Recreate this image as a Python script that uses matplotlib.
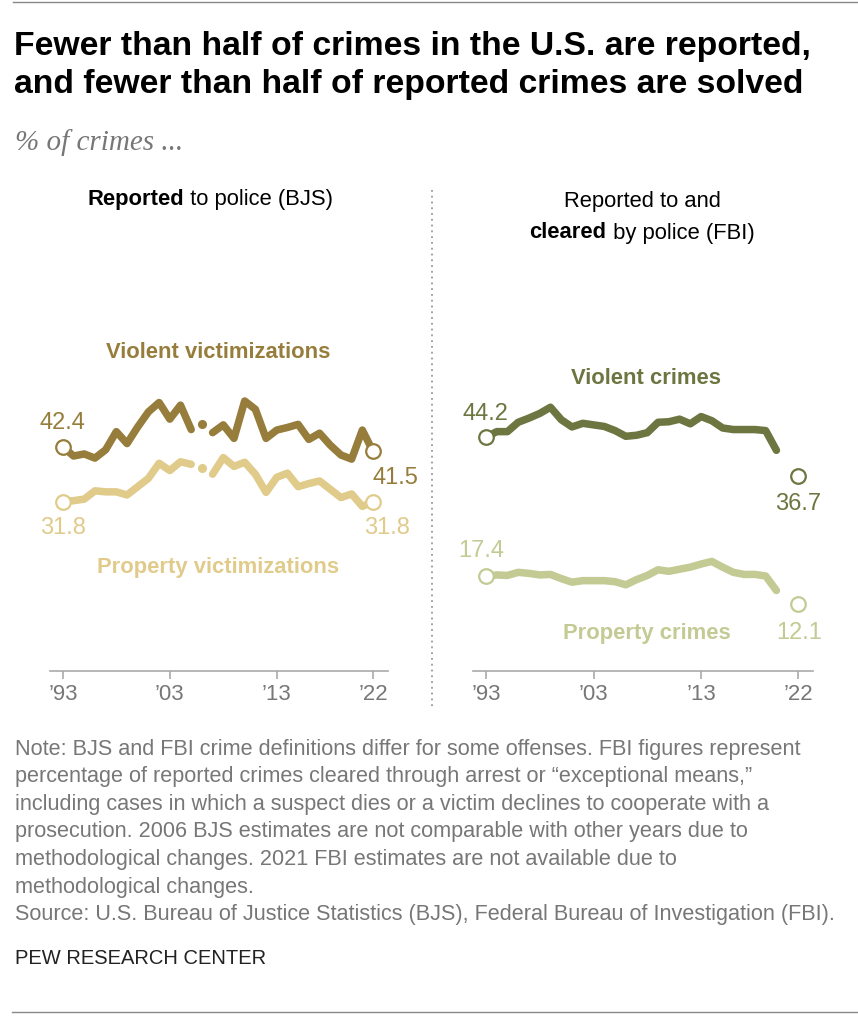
import numpy as np
import matplotlib
matplotlib.use('Agg')
import matplotlib.pyplot as plt

years = list(range(1993, 2023))

# BJS: share of victimizations reported to police (2006 not comparable)
bjs_violent = [42.4, 40.6, 41.0, 40.2, 41.8, 45.3, 43.0, 46.2, 49.1, 50.9,
               47.7, 50.4, 45.7, 46.7, 45.1, 46.6, 44.0, 51.2, 49.6, 44.0,
               45.6, 46.1, 46.7, 43.8, 45.0, 42.7, 40.8, 40.0, 45.6, 41.5]
bjs_property = [31.8, 32.0, 32.3, 33.9, 33.7, 33.7, 33.1, 34.7, 36.3, 39.2,
                37.8, 39.5, 39.0, 38.2, 37.1, 40.3, 38.6, 39.4, 37.1, 33.6,
                36.5, 37.3, 34.7, 35.3, 35.8, 34.2, 32.6, 33.3, 30.9, 31.8]

# FBI: share of reported crimes cleared (2021 not available)
fbi_violent = [44.2, 45.3, 45.3, 47.1, 47.9, 48.8, 50.0, 47.6, 46.2, 46.9,
               46.6, 46.3, 45.5, 44.4, 44.6, 45.1, 47.1, 47.2, 47.7, 46.8,
               48.2, 47.4, 46.0, 45.7, 45.7, 45.7, 45.5, 41.7, np.nan, 36.7]
fbi_property = [17.4, 17.7, 17.6, 18.2, 18.0, 17.7, 17.8, 17.0, 16.3, 16.6,
                16.6, 16.6, 16.4, 15.8, 16.8, 17.6, 18.7, 18.4, 18.8, 19.2,
                19.8, 20.3, 19.2, 18.2, 17.8, 17.8, 17.5, 14.7, np.nan, 12.1]

tick_years = [1993, 2003, 2013, 2022]
tick_labels = ['\u201993', '\u201903', '\u201913', '\u201922']

C_VIOL_L = '#977d3b'
C_PROP_L = '#e0cb8b'
C_VIOL_R = '#6d7540'
C_PROP_R = '#c3ca93'
GRAY = '#777777'

SANS = ['Liberation Sans', 'DejaVu Sans']
plt.rcParams['font.family'] = SANS

W, H = 858, 1018
fig = plt.figure(figsize=(W / 100, H / 100), dpi=100)


def fx(x):
    return x / W


def fy(y):
    return 1 - y / H


def px_rect(x0, y0, x1, y1):
    return [fx(x0), fy(y1), (x1 - x0) / W, (y1 - y0) / H]


# title, subtitle
fig.text(fx(14), fy(47), 'Fewer than half of crimes in the U.S. are reported,',
         fontsize=24.3, fontweight='bold', va='center', ha='left')
fig.text(fx(14), fy(85), 'and fewer than half of reported crimes are solved',
         fontsize=24.3, fontweight='bold', va='center', ha='left')
fig.text(fx(15), fy(143), '% of crimes ...', fontsize=21, style='italic',
         family=['Liberation Serif', 'DejaVu Serif'], color=GRAY, va='center')

fig.add_artist(plt.Line2D([fx(13), 1], [fy(2), fy(2)], color='#888888', lw=1))
fig.add_artist(plt.Line2D([fx(12), 1], [fy(1012), fy(1012)], color='#888888', lw=1))
fig.add_artist(plt.Line2D([fx(432), fx(432)], [fy(190), fy(708)], color='#999999',
                          lw=1.3, ls=(0, (1, 2.2))))

renderer = fig.canvas.get_renderer()


def mixed_line(cx, cy, parts, size=15.8):
    # parts: list of (text, weight); centred on cx
    widths = []
    for txt, wt in parts:
        t = fig.text(0, 0, txt, fontsize=size, fontweight=wt)
        widths.append(t.get_window_extent(renderer).width)
        t.remove()
    x = cx - sum(widths) / 2
    for (txt, wt), w in zip(parts, widths):
        fig.text(fx(x), fy(cy), txt, fontsize=size, fontweight=wt,
                 va='center', ha='left')
        x += w


mixed_line(210, 200, [('Reported', 'bold'), (' to police (BJS)', 'normal')])
mixed_line(642, 201, [('Reported to and', 'normal')])
mixed_line(642, 233, [('cleared', 'bold'), (' by police (FBI)', 'normal')])

ax_l = fig.add_axes(px_rect(50, 280, 388, 671))
ax_r = fig.add_axes(px_rect(473, 280, 813, 671))

for ax in (ax_l, ax_r):
    ax.set_xlim(1991.8, 2023.4)
    ax.set_ylim(-0.8, 74.5)
    for s in ('top', 'right', 'left'):
        ax.spines[s].set_visible(False)
    ax.spines['bottom'].set_color('#aaaaaa')
    ax.spines['bottom'].set_linewidth(1.2)
    ax.set_yticks([])
    ax.set_xticks(tick_years)
    ax.set_xticklabels(tick_labels)
    ax.tick_params(axis='x', length=6, width=1.2, color='#aaaaaa',
                   labelcolor=GRAY, labelsize=16, pad=3)
    ax.patch.set_alpha(0)

yrs = np.array(years)


def draw_series(ax, vals, color, gap_year, dot_gap):
    vals = np.array(vals, dtype=float)
    gi = years.index(gap_year)
    seg1 = slice(0, gi)
    seg2 = slice(gi + 1, len(years))
    ax.plot(yrs[seg1], vals[seg1], color=color, lw=5.4, solid_capstyle='round',
            solid_joinstyle='round', zorder=2)
    if dot_gap:
        ax.plot(yrs[gi], vals[gi], 'o', color=color, ms=5.5, zorder=2)
        ax.plot(yrs[seg2], vals[seg2], color=color, lw=5.4, solid_capstyle='round',
                solid_joinstyle='round', zorder=2)
    # end circles
    ax.plot([yrs[0], yrs[-1]], [vals[0], vals[-1]], 'o', ms=10.5, mfc='white',
            mec=color, mew=1.6, zorder=3)


draw_series(ax_l, bjs_violent, C_VIOL_L, 2006, True)
draw_series(ax_l, bjs_property, C_PROP_L, 2006, True)
draw_series(ax_r, fbi_violent, C_VIOL_R, 2021, False)
draw_series(ax_r, fbi_property, C_PROP_R, 2021, False)


def val_label(ax, x, y, dx, dy, color):
    ax.annotate(f'{y:.1f}', (x, y), xytext=(dx, dy), textcoords='offset points',
                ha='center', va='center', color=color, fontsize=17)


val_label(ax_l, 1993, bjs_violent[0], 0, 17, C_VIOL_L)
val_label(ax_l, 2022, bjs_violent[-1], 16, -19, C_VIOL_L)
val_label(ax_l, 1993, bjs_property[0], 0, -19, C_PROP_L)
val_label(ax_l, 2022, bjs_property[-1], 10, -19, C_PROP_L)
val_label(ax_r, 1993, fbi_violent[0], 0, 17, C_VIOL_R)
val_label(ax_r, 2022, fbi_violent[-1], 0, -20, C_VIOL_R)
val_label(ax_r, 1993, fbi_property[0], -3, 18, C_PROP_R)
val_label(ax_r, 2022, fbi_property[-1], 1, -21, C_PROP_R)

# series names
fig.text(fx(218), fy(353), 'Violent victimizations', color=C_VIOL_L,
         fontsize=15.8, fontweight='bold', ha='center', va='center')
fig.text(fx(218), fy(567), 'Property victimizations', color=C_PROP_L,
         fontsize=15.8, fontweight='bold', ha='center', va='center')
fig.text(fx(646), fy(378), 'Violent crimes', color=C_VIOL_R,
         fontsize=15.8, fontweight='bold', ha='center', va='center')
fig.text(fx(647), fy(633), 'Property crimes', color=C_PROP_R,
         fontsize=15.8, fontweight='bold', ha='center', va='center')

note_lines = [
    'Note: BJS and FBI crime definitions differ for some offenses. FBI figures represent',
    'percentage of reported crimes cleared through arrest or \u201cexceptional means,\u201d',
    'including cases in which a suspect dies or a victim declines to cooperate with a',
    'prosecution. 2006 BJS estimates are not comparable with other years due to',
    'methodological changes. 2021 FBI estimates are not available due to',
    'methodological changes.',
    'Source: U.S. Bureau of Justice Statistics (BJS), Federal Bureau of Investigation (FBI).',
]
for i, line in enumerate(note_lines):
    fig.text(fx(15), fy(749 + i * 27.6), line, color=GRAY, fontsize=15.6,
             va='center', ha='left')
fig.text(fx(15), fy(958), 'PEW RESEARCH CENTER', color='#222222', fontsize=14.5,
         va='center', ha='left')

fig.savefig('out.png', dpi=100)
